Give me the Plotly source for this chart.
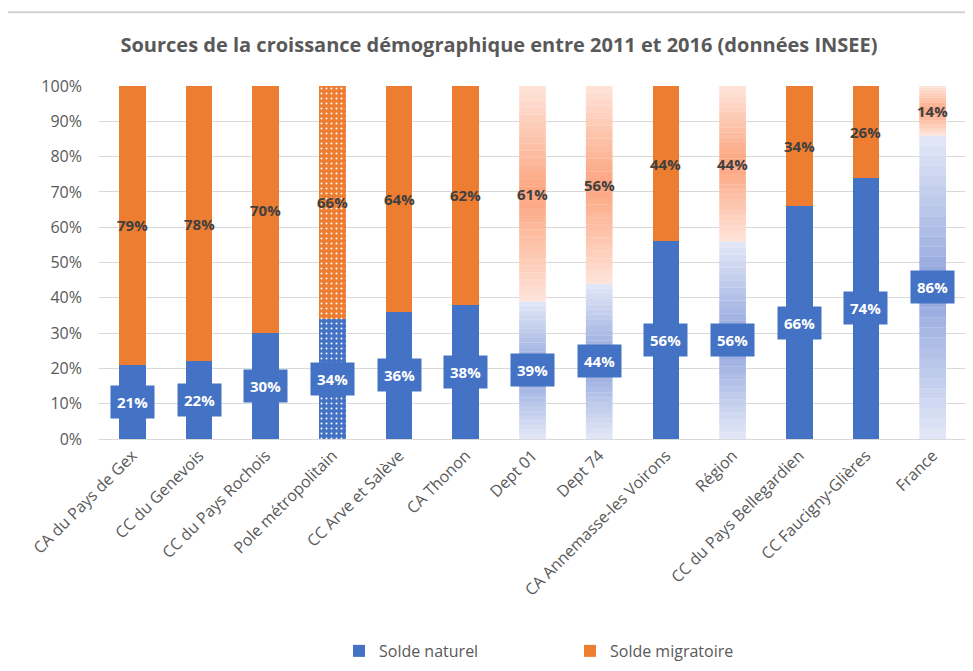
import plotly.graph_objects as go

categories = ["CA du Pays de Gex", "CC du Genevois", "CC du Pays Rochois", "Pole métropolitain",
              "CC Arve et Salève", "CA Thonon", "Dept 01", "Dept 74", "CA Annemasse-les Voirons",
              "Région", "CC du Pays Bellegardien", "CC Faucigny-Glières", "France"]
solde_naturel = [21, 22, 30, 34, 36, 38, 39, 44, 56, 56, 66, 74, 86]
solde_migratoire = [79, 78, 70, 66, 64, 62, 61, 56, 44, 44, 34, 26, 14]
gradient_cats = ["Dept 01", "Dept 74", "Région", "France"]
pattern_cats = ["Pole métropolitain"]

BLUE = "#4472C4"
ORANGE = "#ED7D31"
FONT = "Open Sans"

# page body has an 8px margin: shift figure margins so the plot area lands where it should
OFF = 8

opac = [0 if c in gradient_cats else 1 for c in categories]
shapes_pat = ["." if c in pattern_cats else "" for c in categories]

fig = go.Figure()
for name, vals, col in [("Solde naturel", solde_naturel, BLUE), ("Solde migratoire", solde_migratoire, ORANGE)]:
    fig.add_trace(go.Bar(x=categories, y=vals, name=name,
                         marker=dict(color=col, opacity=opac, line=dict(width=0),
                                     pattern=dict(shape=shapes_pat, fgcolor="white", bgcolor=col,
                                                  fillmode="overlay", size=5, solidity=0.12,
                                                  fgopacity=1))))

def hex2rgb(h):
    h = h.lstrip("#")
    return [int(h[i:i + 2], 16) for i in (0, 2, 4)]

def mix(a, b, t):
    a, b = hex2rgb(a), hex2rgb(b)
    return "rgb(%d,%d,%d)" % tuple(round(a[k] + (b[k] - a[k]) * t) for k in range(3))

shapes = []
N = 30
half = 0.2
for i, c in enumerate(categories):
    if c not in gradient_cats:
        continue
    segs = [(0, solde_naturel[i], "#e3e8f6", "#8fa4dd"),
            (solde_naturel[i], solde_naturel[i] + solde_migratoire[i], "#fee4da", "#fca47e")]
    for lo, hi, pale, dark in segs:
        step = (hi - lo) / N
        for k in range(N):
            t = (k + 0.5) / N
            w = 1 - abs(2 * t - 1)
            top = lo + (k + 1) * step + (0.05 if k < N - 1 else 0)
            shapes.append(dict(type="rect", xref="x", yref="y", layer="between",
                               x0=i - half, x1=i + half, y0=lo + k * step, y1=top,
                               fillcolor=mix(pale, dark, w), line=dict(width=0)))

shapes.append(dict(type="line", xref="paper", yref="paper", x0=-0.108, x1=1.01, y0=1.209, y1=1.209,
                   line=dict(color="#d0d0d0", width=2)))

annotations = []
for i, c in enumerate(categories):
    annotations.append(dict(x=c, y=solde_naturel[i] / 2, text="<b>%d%%</b>" % solde_naturel[i],
                            showarrow=False, font=dict(color="white", size=15, family=FONT),
                            bgcolor=BLUE, borderpad=6, xref="x", yref="y"))
    annotations.append(dict(x=c, y=solde_naturel[i] + solde_migratoire[i] / 2,
                            text="<b>%d%%</b>" % solde_migratoire[i],
                            showarrow=False, font=dict(color="#404040", size=15, family=FONT),
                            xref="x", yref="y"))

fig.update_layout(
    width=973, height=671,
    barmode="stack", bargap=0.6,
    paper_bgcolor="white", plot_bgcolor="white",
    margin=dict(l=99 - OFF, r=7 + OFF, t=86 - OFF, b=231 + OFF),
    title=dict(text="<b>Sources de la croissance démographique entre 2011 et 2016 (données INSEE)</b>",
               x=(499 - OFF) / 973, xref="container", xanchor="center", y=1 - (45 - OFF) / 671,
               yref="container", yanchor="middle",
               font=dict(size=20, color="#595959", family=FONT)),
    font=dict(family=FONT, color="#595959"),
    shapes=shapes, annotations=annotations,
    legend=dict(orientation="h", x=(339 - 99) / 867, xanchor="left", y=-0.596, yanchor="middle",
                font=dict(size=16, color="#595959"), traceorder="normal",
                entrywidth=186, entrywidthmode="pixels", itemwidth=30),
    yaxis=dict(range=[0, 100], dtick=10, ticksuffix="%", showgrid=True, gridcolor="#d9d9d9",
               zeroline=False, tickfont=dict(size=16, color="#595959"), ticks="",
               ticklabelstandoff=16, automargin=False),
    xaxis=dict(tickangle=-45, tickfont=dict(size=16, color="#595959"), showline=True,
               linecolor="#d9d9d9", ticks="", automargin=False),
)

fig.write_html("out.html")
